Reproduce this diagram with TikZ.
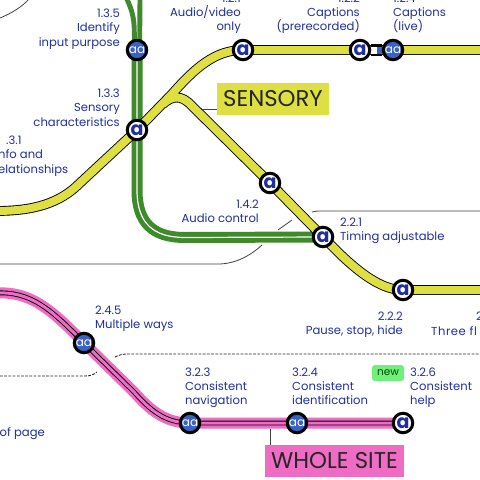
\documentclass[tikz,border=0pt]{standalone}
\usepackage{fontspec}
\setmainfont{Poppins}
\usetikzlibrary{backgrounds}
\definecolor{lineyellow}{HTML}{DEDF42}
\definecolor{linegreen}{HTML}{3E8A2C}
\definecolor{linepink}{HTML}{EE6CC4}
\definecolor{stationblue}{HTML}{3A62C4}
\definecolor{labelblue}{HTML}{1F2F9E}
\definecolor{badgegreen}{HTML}{6EF07A}
\tikzset{
    yellowline/.style={draw=black,line width=0.9pt,double=lineyellow,double distance=8pt},
    greenline/.style={draw=linegreen,line width=4.9pt,double=white,double distance=1.2pt},
    greentrack/.style={draw=linegreen,line width=4.9pt},
    pinkline/.style={draw=black,line width=0.9pt,double=linepink,double distance=3pt,
        preaction={draw=linepink,line width=11pt}},
    border/.style={draw=black!75,line width=0.8pt},
    dashborder/.style={draw=black!85,line width=0.9pt,dash pattern=on 2.8pt off 1.4pt},
    stationa/.style={circle,draw=black,line width=3pt,fill=white,minimum size=19.5pt,inner sep=0pt,
        text=labelblue,font=\bfseries\fontsize{19}{19}\selectfont},
    stationaa/.style={circle,draw=black,line width=3pt,fill=stationblue,minimum size=19.5pt,inner sep=0pt,
        text=white,font=\fontsize{12}{12}\selectfont},
    lbl/.style={text=labelblue,inner sep=0pt,font=\fontsize{11.6}{14.2}\selectfont},
    lblr/.style={lbl,align=right,anchor=north east},
    lbll/.style={lbl,align=left,anchor=north west},
    areabox/.style={inner sep=0pt,minimum height=32pt,text=black!85,font=\fontsize{22.8}{22.8}\selectfont},
}
\begin{document}
\begin{tikzpicture}[x=1pt,y=-1pt]
    \useasboundingbox (0,0) rectangle (480,480);
    % stations
    \node [stationaa] (purpose) at (137,50) {aa};
    \node [stationa] (sensory) at (137,130) {a};
    \node [stationa] (audiovideo) at (243,50) {a};
    \node [stationa] (prerec) at (360,50) {a};
    \node [stationaa] (live) at (393,50) {aa};
    \node [stationa] (audioctl) at (270,183) {a};
    \node [stationa] (timing) at (323,237) {a};
    \node [stationa] (pause) at (403,290) {a};
    \node [stationaa] (ways) at (84,343) {aa};
    \node [stationaa] (navigation) at (190,423) {aa};
    \node [stationaa] (identification) at (297,423) {aa};
    \node [stationa] (help) at (403,423) {a};
    % free ends
    \coordinate (gleft) at (126,-3);
    \coordinate (gright) at (140,-3);
    \coordinate (yleft) at (-5,211);
    \coordinate (yright) at (485,50);
    \coordinate (yright2) at (485,290);
    \coordinate (pleft) at (-5,293);
    \coordinate (bnw) at (0,18);
    \coordinate (bne) at (30,-2);
    \coordinate (bl) at (0,264);
    \coordinate (bm) at (262,245);
    \coordinate (bn) at (278,230);
    \coordinate (bo) at (292,220);
    \coordinate (bp) at (312,212);
    \coordinate (bq) at (480,211);
    \coordinate (dl) at (0,376);
    \coordinate (dm) at (97,372);
    \coordinate (dn) at (115,357);
    \coordinate (dq) at (480,354);
    \path (prerec) -- (live) coordinate [midway] (joint);
    % area labels
    \node [areabox,fill=lineyellow,minimum width=112pt] (sensorybox) at (273,99) {SENSORY};
    \node [areabox,fill=linepink,minimum width=139pt] (sitebox) at (334.5,461) {WHOLE SITE};
    \coordinate (sensoryjoin) at (203,109);
    \coordinate (sitejoin) at (270,429);
    \node [rounded corners=3pt,fill=badgegreen,text=black!70!green,inner sep=0pt,minimum width=32pt,minimum height=16pt,font=\fontsize{10.5}{10.5}\selectfont] (newbadge) at (388,373) {new};
    % lines
    \begin{pgfonlayer}{background}
        \draw [border] (bnw) .. controls (12,13) and (22,7) .. (bne);
        \draw [border] (bl) -- (218,264) .. controls (235,264) and (250,256) .. (bm);
        \draw [border] (bn) -- (bo);
        \draw [border] (bp) .. controls (315,211) and (318,211) .. (322,211) -- (bq);
        \draw [dashborder] (dl) -- (85,376) .. controls (90,376) and (93,375) .. (dm);
        \draw [dashborder] (dn) .. controls (119,355) and (122,354) .. (128,354) -- (dq);
        \draw [border] (sensoryjoin) -- (sensoryjoin -| sensorybox.west);
        \draw [border] (sitejoin) -- (sitejoin |- sitebox.north);
        \draw [greentrack] (gleft) .. controls (131,8) and (134.3,16) .. (134.3,32) -- (134.3,40);
        \draw [greentrack] (gright) -- (139.7,40);
        \draw [greenline] (purpose.center) -- (sensory.center) -- (137,190) .. controls (137,222) and (152,237.5) .. (185,237.5) -- (timing.center);
        \draw [yellowline] (yleft) .. controls (35,211) and (60,203) .. (80,183) -- (sensory.center) -- (172,94) .. controls (195,68) and (215,50) .. (audiovideo.center) -- (yright)
            (163,104) .. controls (172,96) and (181,94) .. (192,106) -- (audioctl.center) -- (timing.center) -- (340,254) .. controls (365,278) and (385,290) .. (pause.center) -- (yright2);
        \draw [pinkline] (pleft) .. controls (30,291) and (50,308) .. (ways.center) -- (134,392) .. controls (150,410) and (165,423) .. (navigation.center) -- (identification.center) -- (help.center);
        \draw [line width=12pt,black] (prerec) -- (live);
        \draw [line width=7pt,white] (prerec) -- (joint);
        \draw [line width=7pt,stationblue] (joint) -- (live);
    \end{pgfonlayer}
    % labels
    \node [lblr] (l135) at (120,9) {1.3.5\\Identify\\input purpose};
    \node [lblr] (l133) at (120,89) {1.3.3\\Sensory\\characteristics};
    \node [lbll] (l131) at (-2,136) {\hspace{8pt}.3.1\\nfo and\\elationships};
    \node [lblr] (l121) at (241,-6.5) {1.2.1\\Audio/video\\only};
    \node [lblr] (l122) at (360,-6.5) {1.2.2\\Captions\\(prerecorded)};
    \node [lbll] (l124) at (393,-6.5) {1.2.4\\Captions\\(live)};
    \node [lblr] (l142) at (259,200) {1.4.2\\Audio control};
    \node [lbll] (l221) at (340,218) {2.2.1\\Timing adjustable};
    \node [lblr] (l222) at (403,312) {2.2.2\\Pause, stop, hide};
    \node [lbll] (l23) at (431,326) {\addfontfeature{LetterSpace=5}Three fl};
    \node [lbll] (l23n) at (476,312) {2};
    \node [lbll] (l245) at (95,306) {2.4.5\\Multiple ways};
    \node [lbll] (l323) at (185,367.5) {3.2.3\\Consistent\\navigation};
    \node [lbll] (l324) at (292,367.5) {3.2.4\\Consistent\\identification};
    \node [lbll] (l326) at (410,367.5) {3.2.6\\Consistent\\help};
    \node [lblr] (lpage) at (45,427) {of page};
\end{tikzpicture}
\end{document}
